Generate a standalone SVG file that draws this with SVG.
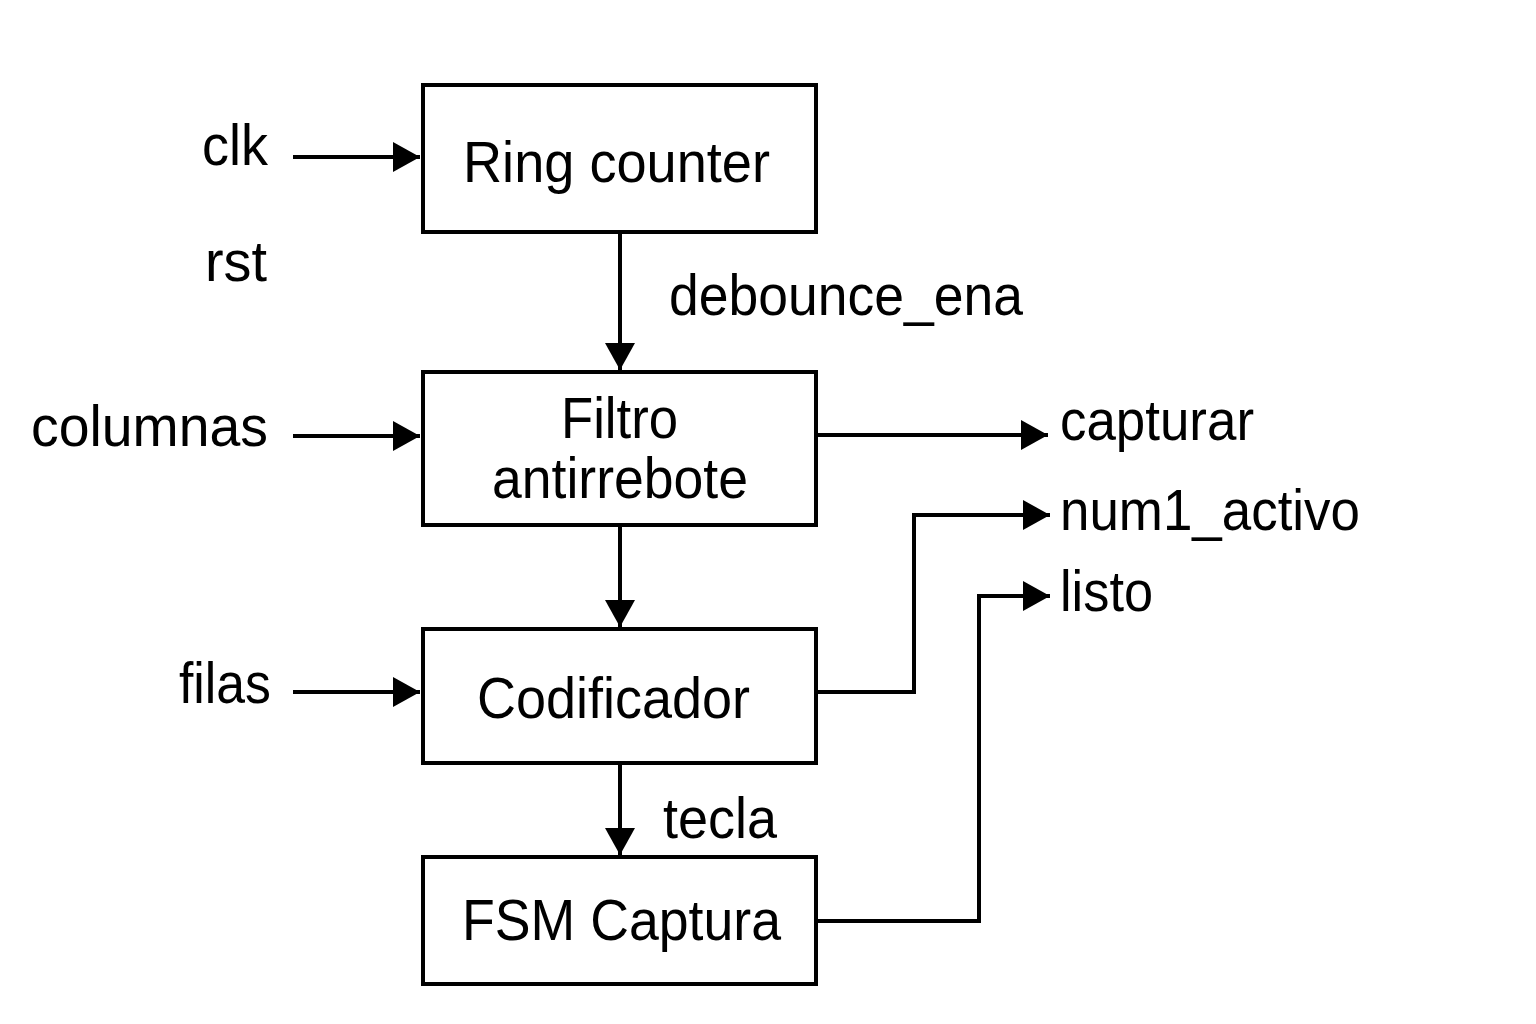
<svg xmlns="http://www.w3.org/2000/svg" width="1536" height="1024" viewBox="0 0 1536 1024">
<defs>
<marker id="arr" markerWidth="27" markerHeight="30" refX="27" refY="15" markerUnits="userSpaceOnUse" orient="auto">
<path d="M0,0 L27,15 L0,30 Z" fill="#000"/>
</marker>
<style>
.box{fill:#fff;stroke:#000;stroke-width:4}
.ln{fill:none;stroke:#000;stroke-width:4;marker-end:url(#arr)}
text{font-family:"Liberation Sans",Arial,sans-serif;font-size:58px;fill:#000}
</style>
</defs>
<rect width="1536" height="1024" fill="#fff"/>
<g id="connectors">
<path class="ln" d="M293,157 H420"/>
<path class="ln" d="M293,436 H420"/>
<path class="ln" d="M293,692 H420"/>
<path class="ln" d="M620,232 V370"/>
<path class="ln" d="M620,525 V627"/>
<path class="ln" d="M620,763 V855"/>
<path class="ln" d="M816,435 H1048"/>
<path class="ln" d="M816,692 H914 V515 H1050"/>
<path class="ln" d="M816,921 H979 V596 H1050"/>
</g>
<g id="ring_counter">
<rect class="box" x="423" y="85" width="393" height="147"/>
<text x="463" y="182" textLength="307" lengthAdjust="spacingAndGlyphs">Ring counter</text>
</g>
<g id="filtro">
<rect class="box" x="423" y="372" width="393" height="153"/>
<text x="561" y="438" textLength="117" lengthAdjust="spacingAndGlyphs">Filtro</text>
<text x="492" y="498" textLength="256" lengthAdjust="spacingAndGlyphs">antirrebote</text>
</g>
<g id="codificador">
<rect class="box" x="423" y="629" width="393" height="134"/>
<text x="477" y="718" textLength="273" lengthAdjust="spacingAndGlyphs">Codificador</text>
</g>
<g id="fsm">
<rect class="box" x="423" y="857" width="393" height="127"/>
<text x="462" y="940" textLength="319" lengthAdjust="spacingAndGlyphs">FSM Captura</text>
</g>
<g id="labels">
<text x="202" y="165" textLength="66" lengthAdjust="spacingAndGlyphs">clk</text>
<text x="205" y="281" textLength="62" lengthAdjust="spacingAndGlyphs">rst</text>
<text x="31" y="446" textLength="237" lengthAdjust="spacingAndGlyphs">columnas</text>
<text x="179" y="703" textLength="92" lengthAdjust="spacingAndGlyphs">filas</text>
<text x="669" y="315" textLength="354" lengthAdjust="spacingAndGlyphs">debounce_ena</text>
<text x="663" y="838" textLength="114" lengthAdjust="spacingAndGlyphs">tecla</text>
<text x="1060" y="440" textLength="194" lengthAdjust="spacingAndGlyphs">capturar</text>
<text x="1060" y="530" textLength="300" lengthAdjust="spacingAndGlyphs">num1_activo</text>
<text x="1060" y="611" textLength="93" lengthAdjust="spacingAndGlyphs">listo</text>
</g>
</svg>
